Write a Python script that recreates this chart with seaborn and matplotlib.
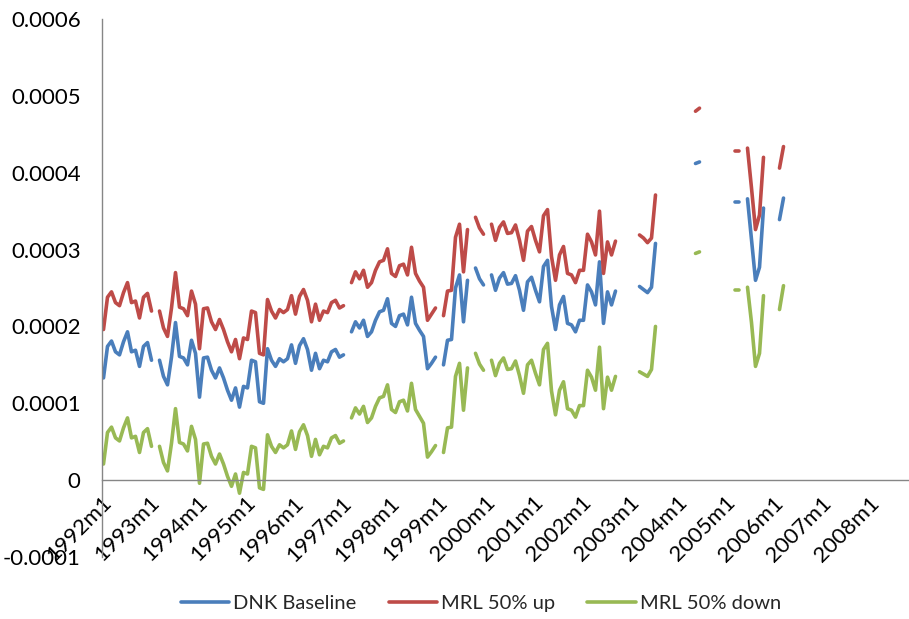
import numpy as np
import pandas as pd
import matplotlib
matplotlib.use("Agg")
import matplotlib.pyplot as plt
import seaborn as sns

nan = np.nan

# Monthly values from 1992m1 onwards, in units of 1e-4 (nan = no observation)
dnk_baseline = [
    1.33, 1.74, 1.81, 1.67, 1.63, 1.80, 1.93, 1.67, 1.69, 1.48, 1.74, 1.79,
    1.56, nan, 1.56, 1.35, 1.24, 1.60, 2.05, 1.61, 1.59, 1.50, 1.82, 1.65,
    1.08, 1.59, 1.60, 1.43, 1.33, 1.46, 1.33, 1.17, 1.04, 1.20, 0.95, 1.22,
    1.20, 1.56, 1.54, 1.02, 1.00, 1.71, 1.56, 1.48, 1.58, 1.54, 1.58, 1.76,
    1.52, 1.75, 1.84, 1.70, 1.43, 1.65, 1.45, 1.56, 1.54, 1.67, 1.70, 1.60,
    1.63, nan, 1.93, 2.06, 1.98, 2.08, 1.87, 1.93, 2.08, 2.19, 2.21, 2.36,
    2.04, 2.00, 2.14, 2.16, 2.02, 2.38, 2.04, 1.95, 1.87, 1.45, 1.52, 1.60,
    nan, 1.50, 1.82, 1.83, 2.50, 2.67, 2.06, 2.60, nan, 2.76, 2.62, 2.54,
    nan, 2.67, 2.47, 2.63, 2.70, 2.55, 2.56, 2.66, 2.47, 2.21, 2.58, 2.64,
    2.47, 2.32, 2.78, 2.86, 2.26, 1.96, 2.28, 2.39, 2.04, 2.02, 1.93, 2.08,
    2.08, 2.54, 2.45, 2.28, 2.84, 2.04, 2.45, 2.28, 2.46, nan, nan, nan,
    nan, nan, 2.52, 2.48, 2.44, 2.51, 3.08, nan, nan, nan, nan, nan,
    nan, nan, nan, nan, 4.12, 4.14, nan, nan, nan, nan, nan, nan,
    nan, nan, 3.62, 3.62, nan, 3.66, 3.13, 2.60, 2.77, 3.54, nan, nan,
    nan, 3.39, 3.67,
]

mrl_up = [
    1.96, 2.38, 2.45, 2.31, 2.27, 2.44, 2.57, 2.31, 2.33, 2.11, 2.38, 2.43,
    2.20, nan, 2.20, 1.98, 1.87, 2.24, 2.70, 2.25, 2.23, 2.14, 2.46, 2.29,
    1.71, 2.23, 2.24, 2.06, 1.96, 2.09, 1.96, 1.80, 1.67, 1.83, 1.58, 1.85,
    1.83, 2.20, 2.18, 1.65, 1.63, 2.35, 2.20, 2.11, 2.22, 2.18, 2.22, 2.40,
    2.16, 2.39, 2.48, 2.34, 2.06, 2.29, 2.08, 2.20, 2.18, 2.31, 2.34, 2.24,
    2.27, nan, 2.57, 2.71, 2.62, 2.73, 2.51, 2.57, 2.73, 2.84, 2.86, 3.01,
    2.69, 2.65, 2.79, 2.81, 2.67, 3.03, 2.69, 2.59, 2.51, 2.08, 2.16, 2.24,
    nan, 2.14, 2.46, 2.47, 3.16, 3.33, 2.71, 3.26, nan, 3.42, 3.28, 3.20,
    nan, 3.33, 3.12, 3.29, 3.36, 3.21, 3.22, 3.32, 3.12, 2.86, 3.24, 3.30,
    3.12, 2.97, 3.44, 3.52, 2.91, 2.60, 2.93, 3.04, 2.69, 2.67, 2.57, 2.73,
    2.73, 3.20, 3.10, 2.93, 3.50, 2.69, 3.10, 2.93, 3.11, nan, nan, nan,
    nan, nan, 3.19, 3.15, 3.09, 3.15, 3.71, nan, nan, nan, nan, nan,
    nan, nan, nan, nan, 4.80, 4.84, nan, nan, nan, nan, nan, nan,
    nan, nan, 4.28, 4.28, nan, 4.32, 3.80, 3.26, 3.45, 4.20, nan, nan,
    nan, 4.06, 4.34,
]

mrl_down = [
    0.21, 0.62, 0.69, 0.55, 0.51, 0.68, 0.81, 0.55, 0.57, 0.36, 0.62, 0.67,
    0.44, nan, 0.44, 0.23, 0.12, 0.48, 0.93, 0.49, 0.47, 0.38, 0.70, 0.53,
    -0.04, 0.47, 0.48, 0.31, 0.21, 0.34, 0.21, 0.05, -0.08, 0.08, -0.17, 0.10,
    0.08, 0.44, 0.42, -0.10, -0.12, 0.59, 0.44, 0.36, 0.46, 0.42, 0.46, 0.64,
    0.40, 0.63, 0.72, 0.58, 0.31, 0.53, 0.33, 0.44, 0.42, 0.55, 0.58, 0.48,
    0.51, nan, 0.81, 0.94, 0.86, 0.96, 0.75, 0.81, 0.96, 1.07, 1.09, 1.24,
    0.92, 0.88, 1.02, 1.04, 0.90, 1.26, 0.92, 0.83, 0.74, 0.30, 0.37, 0.45,
    nan, 0.36, 0.68, 0.69, 1.35, 1.52, 0.91, 1.46, nan, 1.65, 1.51, 1.43,
    nan, 1.56, 1.36, 1.52, 1.59, 1.44, 1.45, 1.55, 1.36, 1.13, 1.50, 1.56,
    1.39, 1.24, 1.70, 1.78, 1.16, 0.85, 1.17, 1.28, 0.93, 0.91, 0.82, 0.97,
    0.97, 1.43, 1.34, 1.17, 1.73, 0.93, 1.34, 1.17, 1.35, nan, nan, nan,
    nan, nan, 1.41, 1.38, 1.35, 1.44, 2.00, nan, nan, nan, nan, nan,
    nan, nan, nan, nan, 2.95, 2.97, nan, nan, nan, nan, nan, nan,
    nan, nan, 2.47, 2.47, nan, 2.51, 2.05, 1.48, 1.65, 2.40, nan, nan,
    nan, 2.22, 2.53,
]

series_names = ["DNK Baseline", "MRL 50% up", "MRL 50% down"]
series_colors = ["#4A7EBB", "#BE4B48", "#98B954"]

x_tick_labels = [
    "1992m1", "1993m1", "1994m1", "1995m1", "1996m1", "1997m1", "1998m1",
    "1999m1", "2000m1", "2001m1", "2002m1", "2003m1", "2004m1", "2005m1",
    "2006m1", "2007m1", "2008m1",
]
y_ticks = [-0.0001, 0.0, 0.0001, 0.0002, 0.0003, 0.0004, 0.0005, 0.0006]
y_tick_labels = ["-0.0001", "0", "0.0001", "0.0002", "0.0003", "0.0004",
                 "0.0005", "0.0006"]

# Long-form table; each unbroken run of months becomes its own unit so
# missing months leave gaps in the lines.
frames = []
for name, vals in zip(series_names, [dnk_baseline, mrl_up, mrl_down]):
    v = np.asarray(vals, dtype=float) * 1e-4
    frames.append(pd.DataFrame({
        "month": np.arange(len(v)),
        "value": v,
        "series": name,
        "segment": np.cumsum(np.isnan(v)),
    }).dropna())
data = pd.concat(frames, ignore_index=True)

sns.set_style("white")
plt.rcParams["font.family"] = ["Lato", "DejaVu Sans"]

W, H = 909, 619
fig = plt.figure(figsize=(W / 100, H / 100), dpi=100)
ax = fig.add_axes([101.5 / W, 62 / H, 808 / W, 538 / H])

sns.lineplot(
    data=data, x="month", y="value", hue="series", hue_order=series_names,
    units="segment", estimator=None,
    palette=dict(zip(series_names, series_colors)),
    linewidth=2.6, solid_capstyle="round", ax=ax,
)

ax.set_xlim(-0.5, 201.5)
ax.set_ylim(-0.0001, 0.0006)
ax.set_xlabel("")
ax.set_ylabel("")

axis_grey = "#868686"
for side in ("top", "right"):
    ax.spines[side].set_visible(False)
ax.spines["left"].set_color(axis_grey)
ax.spines["bottom"].set_color(axis_grey)
ax.spines["left"].set_linewidth(1.0)
ax.spines["bottom"].set_linewidth(1.0)
ax.spines["bottom"].set_position(("data", 0))

ax.set_yticks(y_ticks)
ax.set_yticklabels(y_tick_labels)
ax.set_xticks(np.arange(len(x_tick_labels)) * 12 - 0.5)
ax.set_xticklabels(x_tick_labels)

ax.tick_params(axis="y", direction="out", length=7, width=1, color=axis_grey,
               labelsize=16, pad=8, labelcolor="black")
ax.tick_params(axis="x", direction="out", length=7, width=1, color=axis_grey,
               labelsize=16, pad=2, labelcolor="black")
plt.setp(ax.get_xticklabels(), rotation=45, ha="right", va="top",
         rotation_mode="anchor")

handles, labels = ax.get_legend_handles_labels()
ax.get_legend().remove()
fig.legend(handles, labels, loc="center", bbox_to_anchor=(481 / W, 1 - 603 / H),
           ncol=3, frameon=False, fontsize=14.5, handlelength=2.4,
           handletextpad=0.2, columnspacing=1.6)

fig.savefig("out.png", dpi=100)
